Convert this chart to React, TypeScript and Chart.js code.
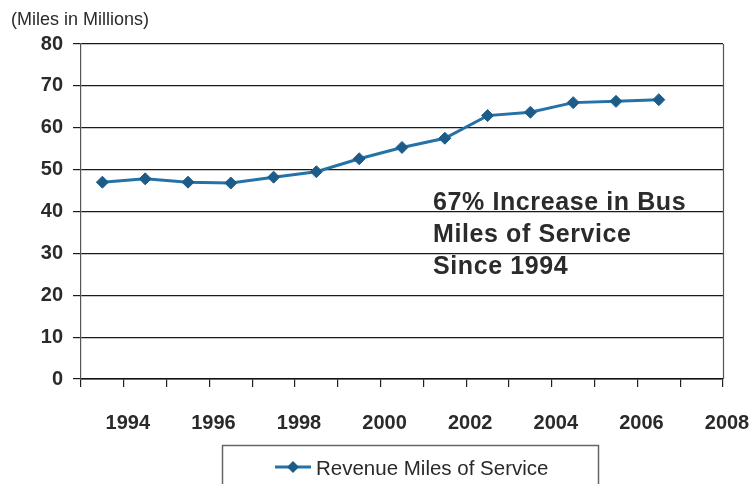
import { useEffect, useRef } from 'react';
import { Chart, registerables } from 'chart.js';

Chart.register(...registerables);

// ---- data ----
const years = [1993, 1994, 1995, 1996, 1997, 1998, 1999, 2000, 2001, 2002, 2003, 2004, 2005, 2006];
const revenueMiles = [47.0, 47.8, 47.0, 46.8, 48.2, 49.5, 52.6, 55.3, 57.5, 62.9, 63.7, 66.0, 66.3, 66.7];
const seriesLabel = 'Revenue Miles of Service';
const xAxisMin = 1993;
const xAxisMax = 2008;
const yAxisMin = 0;
const yAxisMax = 80;
const yStep = 10;
const unitLabel = '(Miles in Millions)';
const noteLines = ['67% Increase in Bus', 'Miles of Service', 'Since 1994'];

const LINE_COLOR = '#2472a8';
const POINT_COLOR = '#1d5c88';
const TEXT_COLOR = '#2a2a2a';
const SANS = '"Liberation Sans", Arial, sans-serif';

const overlayPlugin = {
  id: 'overlayText',
  afterDraw(chart: any) {
    const { ctx, chartArea } = chart;
    ctx.save();
    // right border of the plot
    ctx.strokeStyle = '#555';
    ctx.lineWidth = 1.2;
    ctx.beginPath();
    ctx.moveTo(Math.round(chartArea.right) + 0.5, chartArea.top);
    ctx.lineTo(Math.round(chartArea.right) + 0.5, chartArea.bottom);
    ctx.stroke();

    // unit label
    ctx.fillStyle = TEXT_COLOR;
    ctx.textAlign = 'left';
    ctx.textBaseline = 'alphabetic';
    ctx.font = '18px ' + SANS;
    ctx.fillText(unitLabel, 11, 25);

    // note
    ctx.font = 'bold 25px ' + SANS;
    ctx.fillStyle = '#2b2b2b';
    try { (ctx as any).letterSpacing = '0.6px'; } catch (e) { /* ignore */ }
    noteLines.forEach((t, i) => ctx.fillText(t, 433, 210 + i * 32));
    try { (ctx as any).letterSpacing = '0px'; } catch (e) { /* ignore */ }

    // legend box
    ctx.strokeStyle = '#666';
    ctx.lineWidth = 1.5;
    ctx.strokeRect(222.5, 445.5, 376, 80);
    ctx.strokeStyle = LINE_COLOR;
    ctx.lineWidth = 3;
    ctx.beginPath();
    ctx.moveTo(275, 467);
    ctx.lineTo(311, 467);
    ctx.stroke();
    ctx.fillStyle = POINT_COLOR;
    ctx.beginPath();
    ctx.moveTo(293, 461);
    ctx.lineTo(299, 467);
    ctx.lineTo(293, 473);
    ctx.lineTo(287, 467);
    ctx.closePath();
    ctx.fill();
    ctx.fillStyle = TEXT_COLOR;
    ctx.font = '20.5px ' + SANS;
    ctx.fillText(seriesLabel, 316, 475);
    ctx.restore();
  },
};

export default function App() {
  const ref = useRef<HTMLCanvasElement | null>(null);

  useEffect(() => {
    if (!ref.current) return;
    const chart = new Chart(ref.current, {
      type: 'line',
      data: {
        datasets: [
          {
            label: seriesLabel,
            data: years.map((y, i) => ({ x: y + 0.5, y: revenueMiles[i] })),
            borderColor: LINE_COLOR,
            borderWidth: 3,
            pointStyle: 'rectRot',
            pointRadius: 6,
            pointBackgroundColor: POINT_COLOR,
            pointBorderColor: POINT_COLOR,
            pointBorderWidth: 1,
            tension: 0,
          },
        ],
      },
      options: {
        animation: false,
        responsive: false,
        maintainAspectRatio: false,
        layout: { padding: { top: 44, right: 32, left: 0, bottom: 0 } },
        plugins: { legend: { display: false }, tooltip: { enabled: false } },
        scales: {
          x: {
            type: 'linear',
            min: xAxisMin,
            max: xAxisMax,
            afterFit: (s: any) => {
              s.height = 105;
              s.paddingLeft = 0;
              s.paddingRight = 0;
            },
            border: { display: true, color: '#111', width: 1.5 },
            grid: { drawOnChartArea: false, drawTicks: true, tickLength: 8, color: '#222', lineWidth: 1.2 },
            ticks: {
              stepSize: 1,
              autoSkip: false,
              maxRotation: 0,
              padding: 24,
              labelOffset: 4,
              color: TEXT_COLOR,
              font: { family: SANS, size: 20, weight: 'bold' },
              callback: (v: any) => (Number(v) % 2 === 0 ? String(v) : ''),
            },
          },
          y: {
            min: yAxisMin,
            max: yAxisMax,
            afterFit: (s: any) => {
              s.width = 81;
              s.paddingTop = 0;
              s.paddingBottom = 0;
            },
            border: { display: true, color: '#555', width: 1.2 },
            grid: { color: '#1a1a1a', lineWidth: 1.2, tickLength: 8 },
            ticks: {
              stepSize: yStep,
              padding: 10,
              color: TEXT_COLOR,
              font: { family: SANS, size: 20, weight: 'bold' },
            },
          },
        },
      },
      plugins: [overlayPlugin],
    });
    return () => chart.destroy();
  }, []);

  return (
    <div style={{ position: 'fixed', left: 0, top: 0, width: 755, height: 484, background: '#fff' }}>
      <canvas ref={ref} width={755} height={484} style={{ width: 755, height: 484 }} />
    </div>
  );
}
